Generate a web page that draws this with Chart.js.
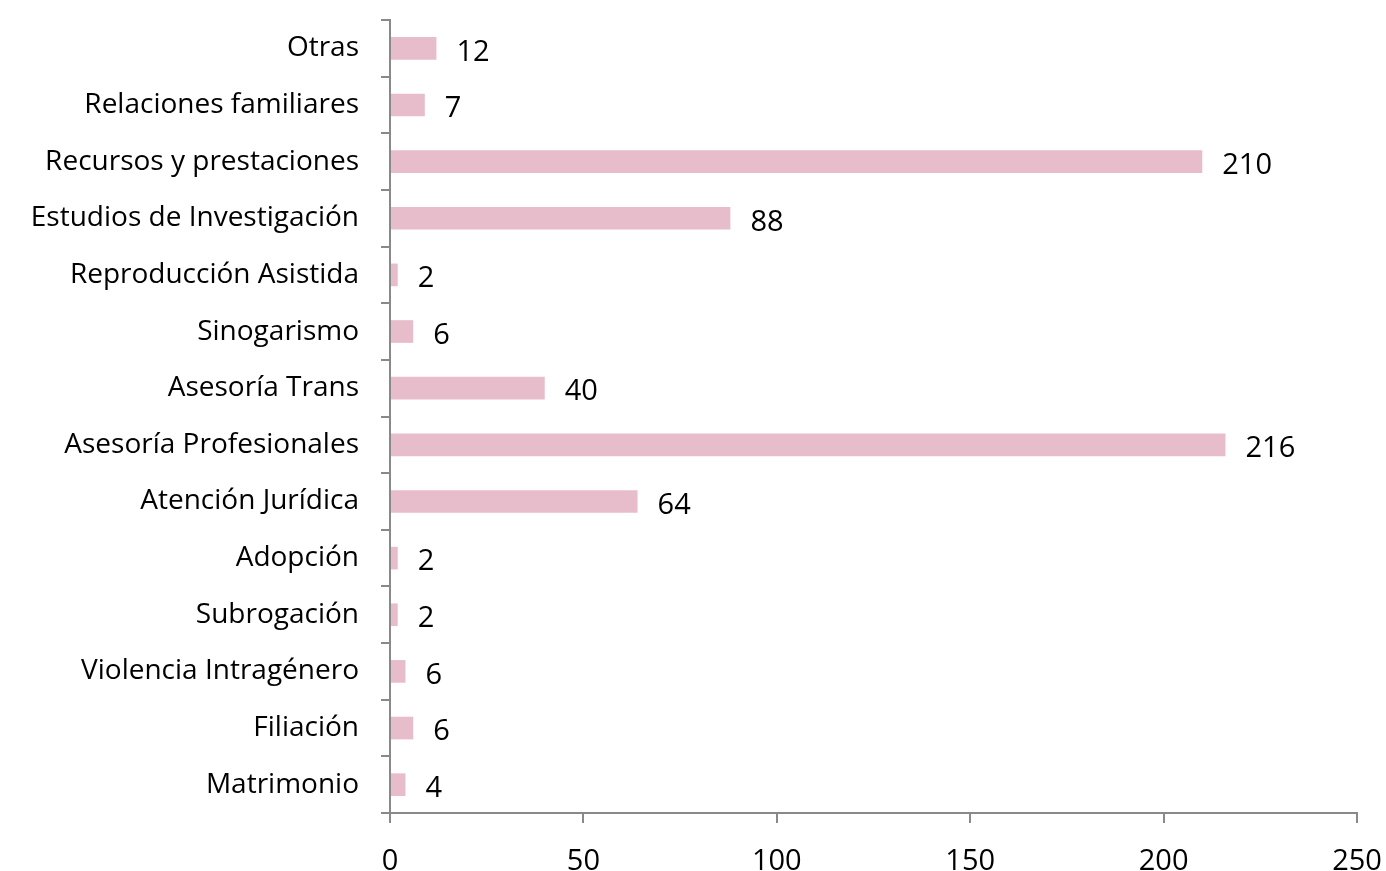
<!DOCTYPE html>
<html>
<head>
<meta charset="utf-8">
<script src="https://cdn.jsdelivr.net/npm/chart.js@4/dist/chart.umd.min.js"></script>
<style>
  html, body { margin: 0; padding: 0; background: #fff; }
  #wrap { width: 1386px; height: 871px; }
</style>
</head>
<body>
<div id="wrap"><canvas id="chart" width="1386" height="871"></canvas></div>
<script>
const categories = ['Otras', 'Relaciones familiares', 'Recursos y prestaciones', 'Estudios de Investigación',
    'Reproducción Asistida', 'Sinogarismo', 'Asesoría Trans', 'Asesoría Profesionales', 'Atención Jurídica',
    'Adopción', 'Subrogación', 'Violencia Intragénero', 'Filiación', 'Matrimonio'];
// bar lengths as drawn in the picture
const barValues = [12, 9, 210, 88, 2, 6, 40, 216, 64, 2, 2, 4, 6, 4];
// numbers printed next to the bars
const labelValues = [12, 7, 210, 88, 2, 6, 40, 216, 64, 2, 2, 6, 6, 4];
const xTicks = [0, 50, 100, 150, 200, 250];

const FONT = "'Open Sans', sans-serif";
const AXIS = '#898989';

const barLabels = {
    id: 'barLabels',
    afterDatasetsDraw(chart) {
        const ctx = chart.ctx;
        const meta = chart.getDatasetMeta(0);
        ctx.save();
        ctx.font = '29px ' + FONT;
        ctx.fillStyle = '#000';
        ctx.textAlign = 'left';
        ctx.textBaseline = 'middle';
        meta.data.forEach((bar, i) => {
            ctx.fillText(String(labelValues[i]), bar.x + 20, bar.y + 4);
        });
        ctx.restore();
    }
};

new Chart(document.getElementById('chart'), {
    type: 'bar',
    data: {
        labels: categories,
        datasets: [{
            data: barValues,
            backgroundColor: '#E8BDCB',
            barPercentage: 0.4,
            categoryPercentage: 1.0
        }]
    },
    options: {
        indexAxis: 'y',
        responsive: false,
        animation: false,
        layout: { padding: { top: 20, right: 29, left: 0, bottom: 0 } },
        plugins: {
            legend: { display: false },
            tooltip: { enabled: false }
        },
        scales: {
            x: {
                min: 0,
                max: 250,
                afterBuildTicks: (scale) => { scale.ticks = xTicks.map(v => ({ value: v })); },
                afterFit: (scale) => {
                    scale.height = 58;
                    scale.paddingLeft = 0;
                    scale.paddingRight = 0;
                },
                grid: { drawOnChartArea: false, color: AXIS, lineWidth: 2, tickLength: 10 },
                border: { color: AXIS, width: 2 },
                ticks: { color: '#000', font: { family: FONT, size: 29 }, padding: 21 }
            },
            y: {
                afterFit: (scale) => {
                    scale.width = 390;
                    scale.paddingTop = 0;
                    scale.paddingBottom = 0;
                },
                grid: { drawOnChartArea: false, color: AXIS, lineWidth: 2, tickLength: 9, offset: true },
                border: { color: AXIS, width: 2 },
                ticks: { color: '#000', font: { family: FONT, size: 28 }, padding: 22 }
            }
        }
    },
    plugins: [barLabels]
});
</script>
</body>
</html>
